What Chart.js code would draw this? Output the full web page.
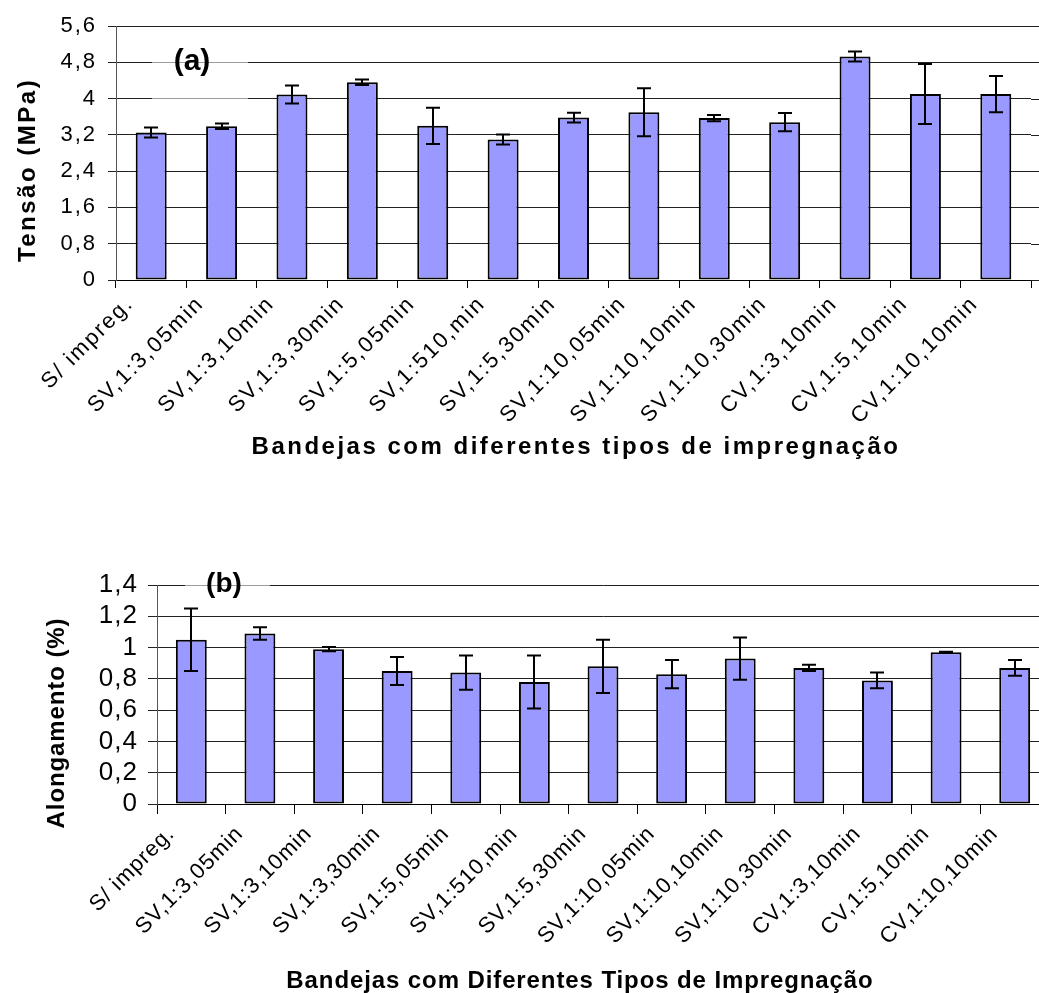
<!DOCTYPE html>
<html>
<head>
<meta charset="utf-8">
<script src="https://cdn.jsdelivr.net/npm/chart.js@4.4.1/dist/chart.umd.min.js"></script>
<style>
  html, body { margin: 0; padding: 0; background: #fff; overflow: hidden; }
  body { width: 1039px; height: 993px; position: relative; }
  canvas { position: absolute; left: 0; }
  #chartA { top: 0; }
  #chartB { top: 545px; }
</style>
</head>
<body>
<canvas id="chartA" width="1039" height="480"></canvas>
<canvas id="chartB" width="1049" height="448"></canvas>
<script>
const categories = [
  'S/ impreg.', 'SV,1:3,05min', 'SV,1:3,10min', 'SV,1:3,30min', 'SV,1:5,05min',
  'SV,1:510,min', 'SV,1:5,30min', 'SV,1:10,05min', 'SV,1:10,10min', 'SV,1:10,30min',
  'CV,1:3,10min', 'CV,1:5,10min', 'CV,1:10,10min'
];
const tensao = [3.25, 3.39, 4.09, 4.36, 3.40, 3.10, 3.58, 3.70, 3.57, 3.48, 4.93, 4.10, 4.10];
const tensaoErro = [0.11, 0.06, 0.20, 0.06, 0.40, 0.11, 0.11, 0.53, 0.07, 0.20, 0.11, 0.66, 0.40];
const alongamento = [1.05, 1.09, 0.99, 0.85, 0.84, 0.78, 0.88, 0.83, 0.93, 0.87, 0.79, 0.97, 0.87];
const alongamentoErro = [0.20, 0.04, 0.013, 0.09, 0.11, 0.17, 0.17, 0.09, 0.135, 0.02, 0.05, 0.003, 0.05];

const FONT = "'Liberation Sans', Arial, sans-serif";
const fmt = v => String(Number(v.toFixed(1))).replace('.', ',');

// error bars from dataset.errors, drawn on the y scale
const errorBars = {
  id: 'errorBars',
  afterDatasetsDraw(chart) {
    const ctx = chart.ctx;
    const y = chart.scales.y;
    const ds = chart.data.datasets[0];
    const meta = chart.getDatasetMeta(0);
    ctx.save();
    ctx.strokeStyle = '#000';
    ctx.lineWidth = 2;
    meta.data.forEach((bar, i) => {
      const top = y.getPixelForValue(ds.data[i] + ds.errors[i]);
      const bot = y.getPixelForValue(ds.data[i] - ds.errors[i]);
      const x = Math.round(bar.x);
      const c = ds.cap;
      ctx.beginPath();
      ctx.moveTo(x, top); ctx.lineTo(x, bot);
      ctx.moveTo(x - c, top); ctx.lineTo(x + c, top);
      ctx.moveTo(x - c, bot); ctx.lineTo(x + c, bot);
      ctx.stroke();
    });
    ctx.restore();
  }
};

function drawText(ctx, txt, x, y, font, spacing, angle) {
  ctx.save();
  ctx.font = font;
  ctx.fillStyle = '#000';
  if ('letterSpacing' in ctx) ctx.letterSpacing = spacing + 'px';
  ctx.textAlign = 'center';
  ctx.textBaseline = 'middle';
  ctx.translate(x, y);
  if (angle) ctx.rotate(angle);
  ctx.fillText(txt, 0, 0);
  ctx.restore();
}

function decor(o) {
  return {
    id: 'decor',
    beforeDraw(chart) {
      // the tick labels in the picture are slightly spaced out
      if ('letterSpacing' in chart.ctx) chart.ctx.letterSpacing = o.tickSpacing + 'px';
    },
    beforeDatasetsDraw(chart) {
      if (!o.extendGrid) return;
      const ctx = chart.ctx, a = chart.chartArea, y = chart.scales.y;
      ctx.save();
      ctx.strokeStyle = '#222';
      ctx.lineWidth = 1;
      y.ticks.forEach(t => {
        const py = Math.round(y.getPixelForValue(t.value)) + 0.5;
        ctx.beginPath();
        ctx.moveTo(a.right, py);
        ctx.lineTo(chart.width, py);
        ctx.stroke();
      });
      ctx.restore();
    },
    afterDraw(chart) {
      const ctx = chart.ctx;
      // label box over the gridlines
      ctx.save();
      ctx.fillStyle = 'rgba(255,255,255,0.55)';
      ctx.fillRect(o.box[0], o.box[1], o.box[2], o.box[3]);
      ctx.restore();
      drawText(ctx, o.tag, o.tagX, o.tagY, 'bold ' + o.tagSize + 'px ' + FONT, 0);
      drawText(ctx, o.yTitle, o.yTitleX, o.yTitleY, 'bold 24px ' + FONT, o.ySpacing, -Math.PI / 2);
      drawText(ctx, o.xTitle, o.xTitleX, o.xTitleY, 'bold 24px ' + FONT, o.xSpacing);
    }
  };
}

function makeChart(el, values, errors, o) {
  return new Chart(document.getElementById(el), {
    type: 'bar',
    data: {
      labels: categories,
      datasets: [{
        data: values,
        errors: errors,
        cap: o.cap,
        backgroundColor: '#9999FF',
        borderColor: '#000',
        borderWidth: 2,
        borderSkipped: false,
        categoryPercentage: 1,
        barPercentage: o.barPct
      }]
    },
    options: {
      responsive: false,
      animation: false,
      devicePixelRatio: 1,
      layout: { padding: { top: o.padTop, right: o.padRight, left: 0, bottom: 0 } },
      plugins: { legend: { display: false }, tooltip: { enabled: false } },
      scales: {
        x: {
          grid: { drawOnChartArea: false, drawTicks: true, tickLength: o.xTick, offset: true, color: '#000' },
          border: { color: '#000', width: 1 },
          ticks: {
            autoSkip: false, maxRotation: 45, minRotation: 45,
            labelOffset: o.labelOffset, padding: o.xPad,
            color: '#000', font: { family: FONT, size: o.xFont }
          },
          afterFit: s => { s.height = o.xHeight; }
        },
        y: {
          min: o.min, max: o.max,
          grid: { color: '#222', lineWidth: 1, tickLength: o.yTick },
          border: { color: '#555', width: 1 },
          ticks: {
            stepSize: o.step, autoSkip: false, padding: o.yPad, color: '#000',
            font: { family: FONT, size: o.yFont },
            callback: v => fmt(v)
          },
          afterFit: s => { s.width = o.yWidth; }
        }
      }
    },
    plugins: [errorBars, decor(o)]
  });
}

makeChart('chartA', tensao, tensaoErro, {
  cap: 7, barPct: 0.44, padTop: 26, padRight: 8, xHeight: 200, yWidth: 116,
  xTick: 8, yTick: 8, xPad: 3, yPad: 11, labelOffset: -21, xFont: 22, yFont: 22,
  tickSpacing: 2, min: 0, max: 5.6, step: 0.8, extendGrid: true,
  box: [152, 50, 96, 52], tag: '(a)', tagX: 192, tagY: 62, tagSize: 30,
  yTitle: 'Tensão (MPa)', yTitleX: 28, yTitleY: 170, ySpacing: 2.5,
  xTitle: 'Bandejas com diferentes tipos de impregnação', xTitleX: 576, xTitleY: 447, xSpacing: 2.5
});

makeChart('chartB', alongamento, alongamentoErro, {
  cap: 7, barPct: 0.45, padTop: 40, padRight: 0, xHeight: 189, yWidth: 157,
  xTick: 10, yTick: 9, xPad: 7, yPad: 10, labelOffset: -20, xFont: 22, yFont: 26,
  tickSpacing: 1, min: 0, max: 1.4, step: 0.2, extendGrid: false,
  box: [185, 27, 85, 28], tag: '(b)', tagX: 224, tagY: 39, tagSize: 28,
  yTitle: 'Alongamento (%)', yTitleX: 57, yTitleY: 178, ySpacing: 0.9,
  xTitle: 'Bandejas com Diferentes Tipos de Impregnação', xTitleX: 580, xTitleY: 436, xSpacing: 0.9
});
</script>
</body>
</html>
